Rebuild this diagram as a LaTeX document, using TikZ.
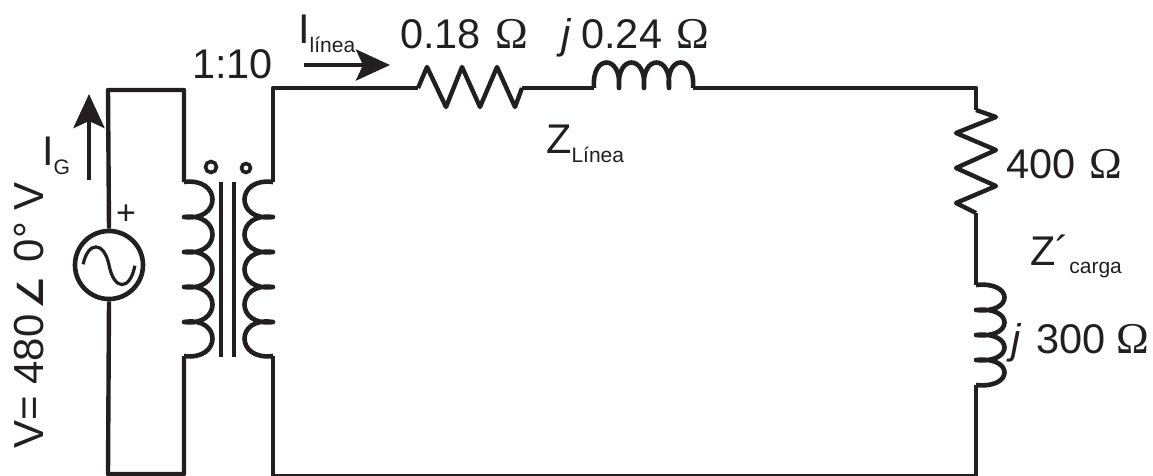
\documentclass[tikz,border=0pt]{standalone}
\usepackage{fontspec}
\setmainfont{Liberation Sans}
\newfontfamily\omegafont{Liberation Serif}
\newfontfamily\anglefont{DejaVu Sans}
\usetikzlibrary{arrows.meta}
\definecolor{ink}{HTML}{231F20}
\newcommand{\ohm}{\hspace{3pt}{\omegafont\fontsize{44}{48}\selectfont Ω}}
\newcommand{\lowtext}[2]{\lower#1pt\hbox{\fontsize{21}{21}\selectfont #2}}
\tikzstyle{wire}=[draw=ink, line width=4.4pt, line join=round]
\tikzstyle{coil}=[wire, line width=4.6pt]
\tikzstyle{core}=[draw=ink, line width=4.2pt]
\tikzstyle{current}=[draw=ink, line width=4.5pt, -{Stealth[length=34pt,width=31pt,inset=7pt]}]
\tikzstyle{label}=[text=ink, inner sep=0pt, anchor=base west, font=\fontsize{41.5}{48}\selectfont]
\tikzstyle{source}=[circle, draw=ink, line width=4.6pt, inner sep=0pt, minimum size=68pt]
\tikzstyle{dot}=[circle, draw=ink, line width=3.6pt, inner sep=0pt]

\begin{document}
\begin{tikzpicture}[x=1pt, y=-1pt]
\useasboundingbox (0,0) rectangle (1153,475);

\draw (109,265) node[source] (VG) {};
\draw (211,167) node[dot, minimum size=11pt] (D1) {};
\draw (246,168) node[dot, minimum size=9pt] (D2) {};

\coordinate (A1) at (108,90);
\coordinate (A2) at (184,90);
\coordinate (A3) at (184,182);
\coordinate (A4) at (184,356);
\coordinate (A5) at (184,474);
\coordinate (A6) at (108,474);
\coordinate (B1) at (273,182);
\coordinate (B2) at (273,88);
\coordinate (B3) at (273,356);
\coordinate (B4) at (273,476);
\coordinate (R1) at (418,88);
\coordinate (R2) at (522,88);
\coordinate (L1) at (594,88);
\coordinate (L2) at (693,88);
\coordinate (C1) at (976,88);
\coordinate (R3) at (976,110);
\coordinate (R4) at (976,213);
\coordinate (L3) at (976,285);
\coordinate (L4) at (976,385);
\coordinate (C2) at (976,476);

\draw[wire] (VG.north) -- (A1) -- (A2) -- (A3);
\draw[wire] (VG.south) -- (A6) -- (A5) -- (A4);
\draw[wire] (B1) -- (B2) -- (R1);
\draw[wire] (B3) -- (B4) -- (C2) -- (L4);
\draw[wire] (R2) -- (L1);
\draw[wire] (L2) -- (C1) -- (R3);
\draw[wire] (R4) -- (L3);

\draw[wire] (R1) -- (427,67) -- (446,107) -- (462,67) -- (480,107) -- (497,67) -- (515,107) -- (R2);
\draw[wire] (R3) -- (996,117) -- (956,133) -- (996,150) -- (956,168) -- (996,186) -- (956,203) -- (R4);

\draw[coil] (A3) \foreach \y in {0,35,70,105,139} {.. controls (222,177+\y) and (222,222+\y) .. (184,217+\y)};
\draw[coil] (B1) \foreach \y in {0,35,70,105,139} {.. controls (235,177+\y) and (235,222+\y) .. (273,217+\y)};
\draw[coil] (L1) \foreach \x in {0,25,50,74} {.. controls (591+\x,54) and (622+\x,54) .. (619+\x,88)};
\draw[coil] (L3) \foreach \y in {0,25,50,75} {.. controls (1014,281+\y) and (1014,314+\y) .. (976,310+\y)};

\draw[core] (221,182) node (T1) {} -- (221,357) node (T2) {};
\draw[core] (234,182) node (T3) {} -- (234,357) node (T4) {};

\draw (83,265) node[inner sep=0pt] (S1) {};
\draw (135,265) node[inner sep=0pt] (S2) {};
\draw[draw=ink, line width=3.2pt] (S1) .. controls (88,241) and (104,241) .. (109,265) .. controls (114,291) and (130,291) .. (S2);

\coordinate (I1) at (89,180);
\coordinate (I2) at (89,94);
\coordinate (I3) at (304,65);
\coordinate (I4) at (390,65);
\draw[current] (I1) -- (I2);
\draw[current] (I3) -- (I4);

\draw (126,215) node[text=ink, inner sep=0pt, font=\fontsize{34}{40}\selectfont] (PLUS) {+};
\draw (43,449) node[label, font=\fontsize{42}{48}\selectfont, rotate=90] (V) {V= 480\hspace{5pt}{\anglefont\bfseries\fontsize{36}{48}\selectfont ∠}\hspace{15pt}0° V};
\draw (192,78) node[label] (RATIO) {1:10};
\draw (298,43) node[label] (ILINE) {I\lowtext{9}{línea}};
\draw (42,165) node[label] (IG) {I\lowtext{9}{G}};
\draw (400,48) node[label] (R1TXT) {0.18 \ohm};
\draw (561,48) node[label] (L1TXT) {\textit{j}\hspace{10pt}0.24 \ohm};
\draw (546,153) node[label] (ZLINE) {Z\lowtext{9}{Línea}};
\draw (1006,178) node[label] (R2TXT) {400 \ohm};
\draw (1030,265) node[label] (ZLOAD) {Z´\lowtext{8}{carga}};
\draw (1011,353) node[label] (L2TXT) {\textit{j}\hspace{15pt}300 \hspace{-4pt}\ohm};
\end{tikzpicture}
\end{document}
